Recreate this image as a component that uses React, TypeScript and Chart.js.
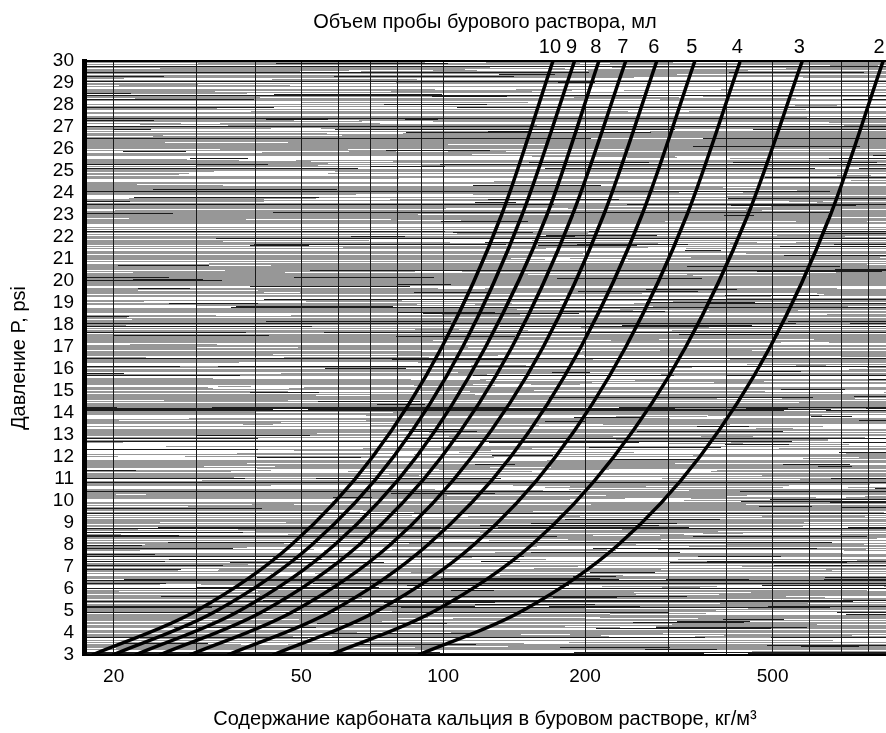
import React, { useEffect, useRef } from 'react';
import { Chart, registerables } from 'chart.js';

Chart.register(...registerables);

// Pressure levels (psi) at which the curves were read
const pressure = [3, 5, 8, 12, 17, 23, 30];

// Sample volumes (ml) — curve labels
const volumes = ['10', '9', '8', '7', '6', '5', '4', '3', '2'];

// CaCO3 content (kg/m3) at the pressure levels above
const c10 = [18.0, 29.9, 47.6, 70.8, 99.4, 133, 171];
const c9 = [19.9, 33.0, 52.6, 78.4, 110, 147, 190];
const c8 = [22.2, 36.9, 58.8, 87.7, 123, 166, 214];
const c7 = [25.0, 41.6, 66.3, 99.2, 140, 188, 244];
const c6 = [29.0, 48.3, 77.1, 115, 163, 219, 284];
const c5 = [34.9, 58.1, 92.7, 139, 196, 264, 342];
const c4 = [43.5, 72.4, 116, 173, 244, 329, 427];
const c3 = [57.5, 95.9, 154, 230, 327, 443, 578];
const c2 = [88.5, 147, 235, 350, 494, 663, 858];
const curves = [c10, c9, c8, c7, c6, c5, c4, c3, c2];

// Axis ticks
const xGridValues = [20, 30, 40, 50, 60, 70, 80, 90, 100, 200, 300, 400, 500, 600, 700, 800];
const xLabelValues = [20, 50, 100, 200, 500];
const xMin = 17.3;
const xMax = 870;
const yMin = 3;
const yMax = 30;

const topTitle = 'Объем пробы бурового раствора, мл';
const xTitle = 'Содержание карбоната кальция в буровом растворе, кг/м³';
const yTitle = 'Давление P, psi';

const FONT = '"Liberation Sans", Arial, Helvetica, sans-serif';

// deterministic hash for the scanned-paper texture (styling only)
function hash(a: number, b: number) {
  let h = Math.imul(a, 374761393) + Math.imul(b, 668265263);
  h = Math.imul(h ^ (h >>> 13), 1274126177);
  h = h ^ (h >>> 16);
  return (h >>> 0) / 4294967296;
}

const WHITE = '#ffffff';
const GRAY = '#979797';
const BLACK = '#1c1c1c';

function rowColor(v: number) {
  if (v < 0.62) return GRAY;
  if (v < 0.92) return WHITE;
  return BLACK;
}

export default function App() {
  const ref = useRef<HTMLCanvasElement>(null);

  useEffect(() => {
    const canvas = ref.current!;

    const texturePlugin = {
      id: 'texture',
      beforeDraw(chart: any) {
        const { ctx, chartArea } = chart;
        const { left, top, right, bottom } = chartArea;
        ctx.save();
        ctx.fillStyle = '#ffffff';
        ctx.fillRect(0, 0, chart.width, chart.height);
        ctx.fillStyle = GRAY;
        ctx.fillRect(left, top, right - left, bottom - top);
        for (let y = Math.floor(top); y < bottom; y++) {
          const base = rowColor(hash(y, 7));
          let x = left;
          let seg = 0;
          while (x < right) {
            const len = 30 + Math.floor(hash(y, seg * 3 + 1) * 160);
            const r = hash(y, seg * 3 + 2);
            let col = base;
            if (r > 0.75) col = r > 0.96 ? BLACK : r > 0.88 ? WHITE : GRAY;
            ctx.fillStyle = col;
            ctx.fillRect(x, y, Math.min(len, right - x), 1);
            x += len;
            seg++;
          }
        }
        ctx.restore();
      },
      afterDraw(chart: any) {
        const { ctx, chartArea } = chart;
        ctx.save();
        ctx.strokeStyle = '#000';
        ctx.lineWidth = 2;
        ctx.beginPath();
        ctx.moveTo(chartArea.left, chartArea.top);
        ctx.lineTo(chartArea.right, chartArea.top);
        ctx.stroke();
        ctx.restore();
      },
    };

    const curveLabelPlugin = {
      id: 'curveLabels',
      afterDatasetsDraw(chart: any) {
        const { ctx, chartArea } = chart;
        ctx.save();
        ctx.font = `20px ${FONT}`;
        ctx.fillStyle = '#000';
        ctx.textAlign = 'center';
        ctx.textBaseline = 'middle';
        chart.data.datasets.forEach((ds: any, i: number) => {
          const meta = chart.getDatasetMeta(i);
          const pt = meta.data[meta.data.length - 1];
          const x = Math.min(pt.x - 3, chart.width - 7);
          ctx.fillText(ds.label, x, chartArea.top - 14);
        });
        ctx.restore();
      },
    };

    const chart = new Chart(canvas, {
      type: 'line',
      data: {
        datasets: curves.map((arr, i) => ({
          label: volumes[i],
          data: pressure.map((p, j) => ({ x: arr[j], y: p })),
          borderColor: '#000',
          borderWidth: 3.5,
          pointRadius: 0,
          fill: false,
          cubicInterpolationMode: 'monotone' as const,
          xAxisID: 'x',
          yAxisID: 'y',
        })),
      },
      options: {
        responsive: false,
        animation: false,
        devicePixelRatio: 1,
        layout: { padding: 0 },
        plugins: {
          legend: { display: false },
          tooltip: { enabled: false },
          title: { display: false },
        },
        scales: {
          x: {
            type: 'logarithmic',
            position: 'bottom',
            min: xMin,
            max: xMax,
            afterBuildTicks: (scale: any) => {
              scale.ticks = xGridValues.map((v) => ({ value: v }));
            },
            afterFit: (scale: any) => {
              scale.height = 78;
            },
            ticks: {
              autoSkip: false,
              maxRotation: 0,
              padding: 10,
              color: '#000',
              font: { size: 19, family: FONT },
              callback: (v: any) => (xLabelValues.includes(Number(v)) ? String(v) : ''),
            },
            grid: { color: '#1a1a1a', lineWidth: 1, drawTicks: false },
            border: { display: true, color: '#000', width: 2 },
            title: {
              display: true,
              text: xTitle,
              color: '#000',
              font: { size: 20, family: FONT },
              padding: { top: 0, bottom: 2 },
            },
          },
          xTop: {
            type: 'linear',
            position: 'top',
            min: 0,
            max: 1,
            afterFit: (scale: any) => {
              scale.height = 61;
            },
            ticks: { display: false },
            grid: { display: false },
            border: { display: false },
            title: {
              display: true,
              text: topTitle,
              color: '#000',
              font: { size: 20, family: FONT },
              padding: { top: 10, bottom: 0 },
            },
          },
          y: {
            type: 'linear',
            position: 'left',
            min: yMin,
            max: yMax,
            afterFit: (scale: any) => {
              scale.width = 84;
            },
            ticks: {
              stepSize: 1,
              autoSkip: false,
              padding: 10,
              color: '#000',
              font: { size: 19, family: FONT },
            },
            grid: { display: false, drawTicks: false },
            border: { display: true, color: '#000', width: 5 },
            title: {
              display: true,
              text: yTitle,
              color: '#000',
              font: { size: 20, family: FONT },
              padding: { top: 7, bottom: 0 },
            },
          },
        },
      },
      plugins: [texturePlugin, curveLabelPlugin],
    } as any);

    return () => chart.destroy();
  }, []);

  return (
    <canvas
      ref={ref}
      width={886}
      height={733}
      style={{ position: 'absolute', left: 0, top: 0, display: 'block' }}
    />
  );
}
